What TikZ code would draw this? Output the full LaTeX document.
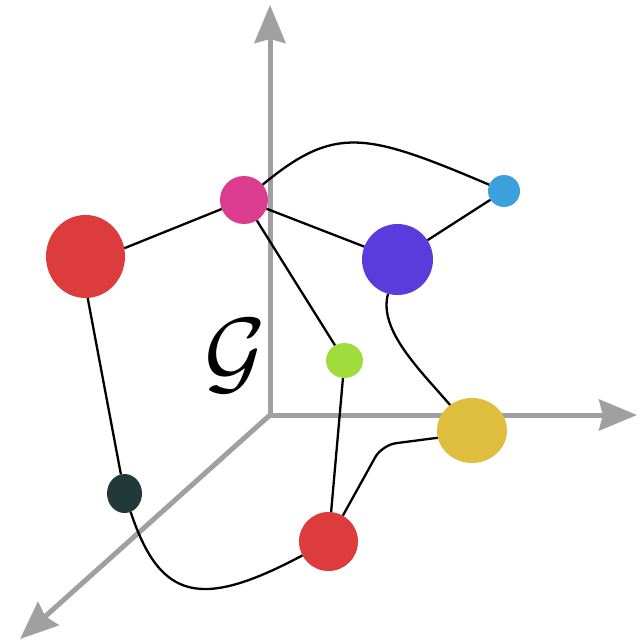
\documentclass[tikz,border=0pt]{standalone}
\usetikzlibrary{arrows.meta,shapes.geometric}
\definecolor{cbigred}{HTML}{DD3C3C}
\definecolor{cmag}{HTML}{DC3C8F}
\definecolor{cblue}{HTML}{3CA0DC}
\definecolor{cpurple}{HTML}{5A3CDD}
\definecolor{cgreen}{HTML}{A0DC3C}
\definecolor{cyellow}{HTML}{DEBE3C}
\definecolor{cdark}{HTML}{213938}
\definecolor{caxis}{HTML}{A0A0A0}
\pgfdeclarelayer{axeslayer}
\pgfdeclarelayer{edgelayer}
\pgfsetlayers{axeslayer,edgelayer,main}
\tikzset{
  vert/.style={ellipse, fill=#1, inner sep=0pt, outer sep=0pt},
  axisline/.style={draw=caxis, line width=5pt, -{Stealth[length=38pt,width=31pt,inset=4pt]}},
  edge/.style={draw=black, line width=2.3pt},
}
\begin{document}
\begin{tikzpicture}[x=1pt,y=-1pt]
\useasboundingbox (0,0) rectangle (637,644);
% vertices
\node[vert=cbigred, minimum width=79pt, minimum height=83pt] (bigred) at (85.5,256.5) {};
\node[vert=cmag, minimum width=48pt, minimum height=48pt] (mag) at (244,200) {};
\node[vert=cblue, minimum width=32pt, minimum height=32pt] (blue) at (504,191) {};
\node[vert=cpurple, minimum width=71pt, minimum height=71pt] (purple) at (397.5,259.5) {};
\node[vert=cgreen, minimum width=37pt, minimum height=35pt] (green) at (344.5,360.5) {};
\node[vert=cyellow, minimum width=70pt, minimum height=65pt] (yellow) at (472,430.5) {};
\node[vert=cdark, minimum width=35pt, minimum height=39pt] (dark) at (124.5,493.5) {};
\node[vert=cbigred, minimum width=59pt, minimum height=59pt] (red2) at (328.5,541.5) {};
% axes
\begin{pgfonlayer}{axeslayer}
\coordinate (o) at (270,415);
\coordinate (ytip) at (270,5);
\coordinate (xtip) at (637,415);
\coordinate (ztip) at (20,639);
\draw[axisline] (o) -- (ytip);
\draw[axisline] (o) -- (xtip);
\draw[axisline] (o) -- (ztip);
\end{pgfonlayer}
% label
\node[scale=9.4] (G) at (235,356) {$\mathcal{G}$};
% edges
\begin{pgfonlayer}{edgelayer}
\draw[edge] (bigred.12) -- (mag);
\draw[edge] (mag) -- (purple);
\draw[edge] (purple) -- (blue);
\draw[edge] (mag) .. controls (335,125) and (365,132) .. (blue);
\draw[edge] (mag) -- (green);
\draw[edge] (green) -- (red2);
\draw[edge] (purple) .. controls (378,330) and (420,370) .. (yellow);
\draw[edge, rounded corners=14pt] (yellow.192) -- (382,445) -- (red2);
\draw[edge] (bigred.273) -- (dark);
\draw[edge] (dark) .. controls (160,600) and (200,610) .. (red2);
\end{pgfonlayer}
\end{tikzpicture}
\end{document}
